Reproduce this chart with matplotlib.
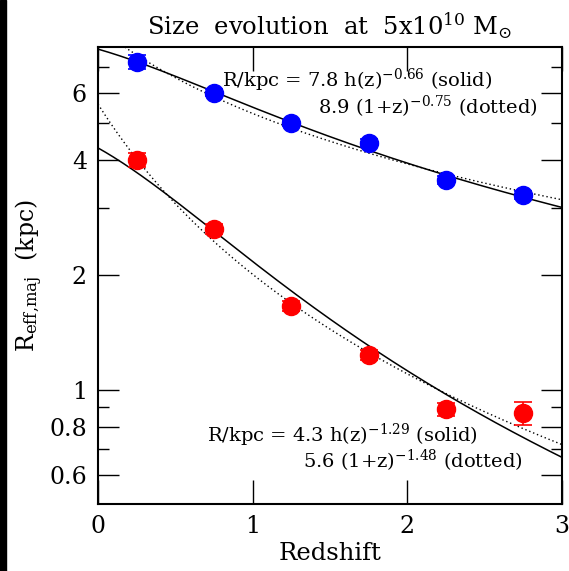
import numpy as np
import matplotlib
matplotlib.use("Agg")
import matplotlib.pyplot as plt
from matplotlib.ticker import FixedLocator, NullFormatter

plt.rcParams["font.family"] = "DejaVu Serif"
plt.rcParams["mathtext.fontset"] = "dejavuserif"

# binned sizes at fixed stellar mass
z_bins = [0.25, 0.75, 1.25, 1.75, 2.25, 2.75]
r_blue = [7.22, 6.0, 5.0, 4.43, 3.55, 3.24]
e_blue = [0.30, 0.12, 0.10, 0.10, 0.08, 0.08]
r_red = [4.0, 2.64, 1.66, 1.235, 0.892, 0.87]
e_red = [0.17, 0.08, 0.05, 0.04, 0.035, 0.06]

# fit parameters: R = A h(z)^a (solid), R = B (1+z)^b (dotted)
fit_blue = dict(A=7.8, a=-0.66, B=8.9, b=-0.75)
fit_red = dict(A=4.3, a=-1.29, B=5.6, b=-1.48)
omega_m = 0.27

yticks_major = [0.6, 0.8, 1, 2, 4, 6]
yticks_minor = [0.7, 0.9, 3, 5, 7]


def hz(z):
    return np.sqrt(omega_m * (1 + z) ** 3 + 1 - omega_m)


fig = plt.figure(figsize=(5.69, 5.71), dpi=100)
ax = fig.add_axes([98 / 569, 67 / 571, 464 / 569, 457 / 571])

zz = np.linspace(0, 3, 300)
for fit in (fit_blue, fit_red):
    ax.plot(zz, fit["A"] * hz(zz) ** fit["a"], color="black", lw=1.1)
    ax.plot(zz, fit["B"] * (1 + zz) ** fit["b"], color="black", lw=1.0,
            ls=(0, (1, 2)))

ax.errorbar(z_bins, r_blue, yerr=e_blue, fmt="o", color="blue", ms=13,
            capsize=6.5, elinewidth=1.2, capthick=1.2, zorder=5)
ax.errorbar(z_bins, r_red, yerr=e_red, fmt="o", color="red", ms=13,
            capsize=6.5, elinewidth=1.2, capthick=1.2, zorder=5)

ax.set_yscale("log")
ax.set_xlim(0, 3)
ax.set_ylim(0.503, 7.9)
ax.yaxis.set_major_locator(FixedLocator(yticks_major))
ax.yaxis.set_minor_locator(FixedLocator(yticks_minor))
ax.set_yticklabels([str(v) for v in yticks_major])
ax.yaxis.set_minor_formatter(NullFormatter())
ax.set_xticks([0, 1, 2, 3])
ax.set_xticklabels(["0", "1", "2", "3"])

ax.tick_params(which="major", direction="in", length=15, width=1.0,
               top=True, right=True, labelsize=17, pad=8)
ax.tick_params(which="minor", direction="in", length=8, width=1.0,
               top=True, right=True)
ax.tick_params(axis="x", which="major", length=17)
for s in ax.spines.values():
    s.set_linewidth(1.5)

ax.set_xlabel("Redshift", fontsize=17.5, labelpad=3)
ax.set_ylabel(r"R$_{\rm eff{,}maj}$  (kpc)", fontsize=17, labelpad=3)
ax.set_title(r"Size  evolution  at  5x10$^{10}$ M$_{\odot}$", fontsize=17.5, pad=9)

fs = 14
ax.text(0.267, 0.928, r"R/kpc = 7.8 h(z)$^{-0.66}$ (solid)", transform=ax.transAxes,
        fontsize=fs, va="center", ha="left")
ax.text(0.474, 0.869, r"8.9 (1+z)$^{-0.75}$ (dotted)", transform=ax.transAxes,
        fontsize=fs, va="center", ha="left")
ax.text(0.235, 0.151, r"R/kpc = 4.3 h(z)$^{-1.29}$ (solid)", transform=ax.transAxes,
        fontsize=fs, va="center", ha="left")
ax.text(0.442, 0.094, r"5.6 (1+z)$^{-1.48}$ (dotted)", transform=ax.transAxes,
        fontsize=fs, va="center", ha="left")

# dark strip along the left edge
fig.patches.append(plt.Rectangle((0, 0), 6 / 569, 1, transform=fig.transFigure,
                                 color="black", zorder=0))

fig.savefig("out.png", dpi=100)
